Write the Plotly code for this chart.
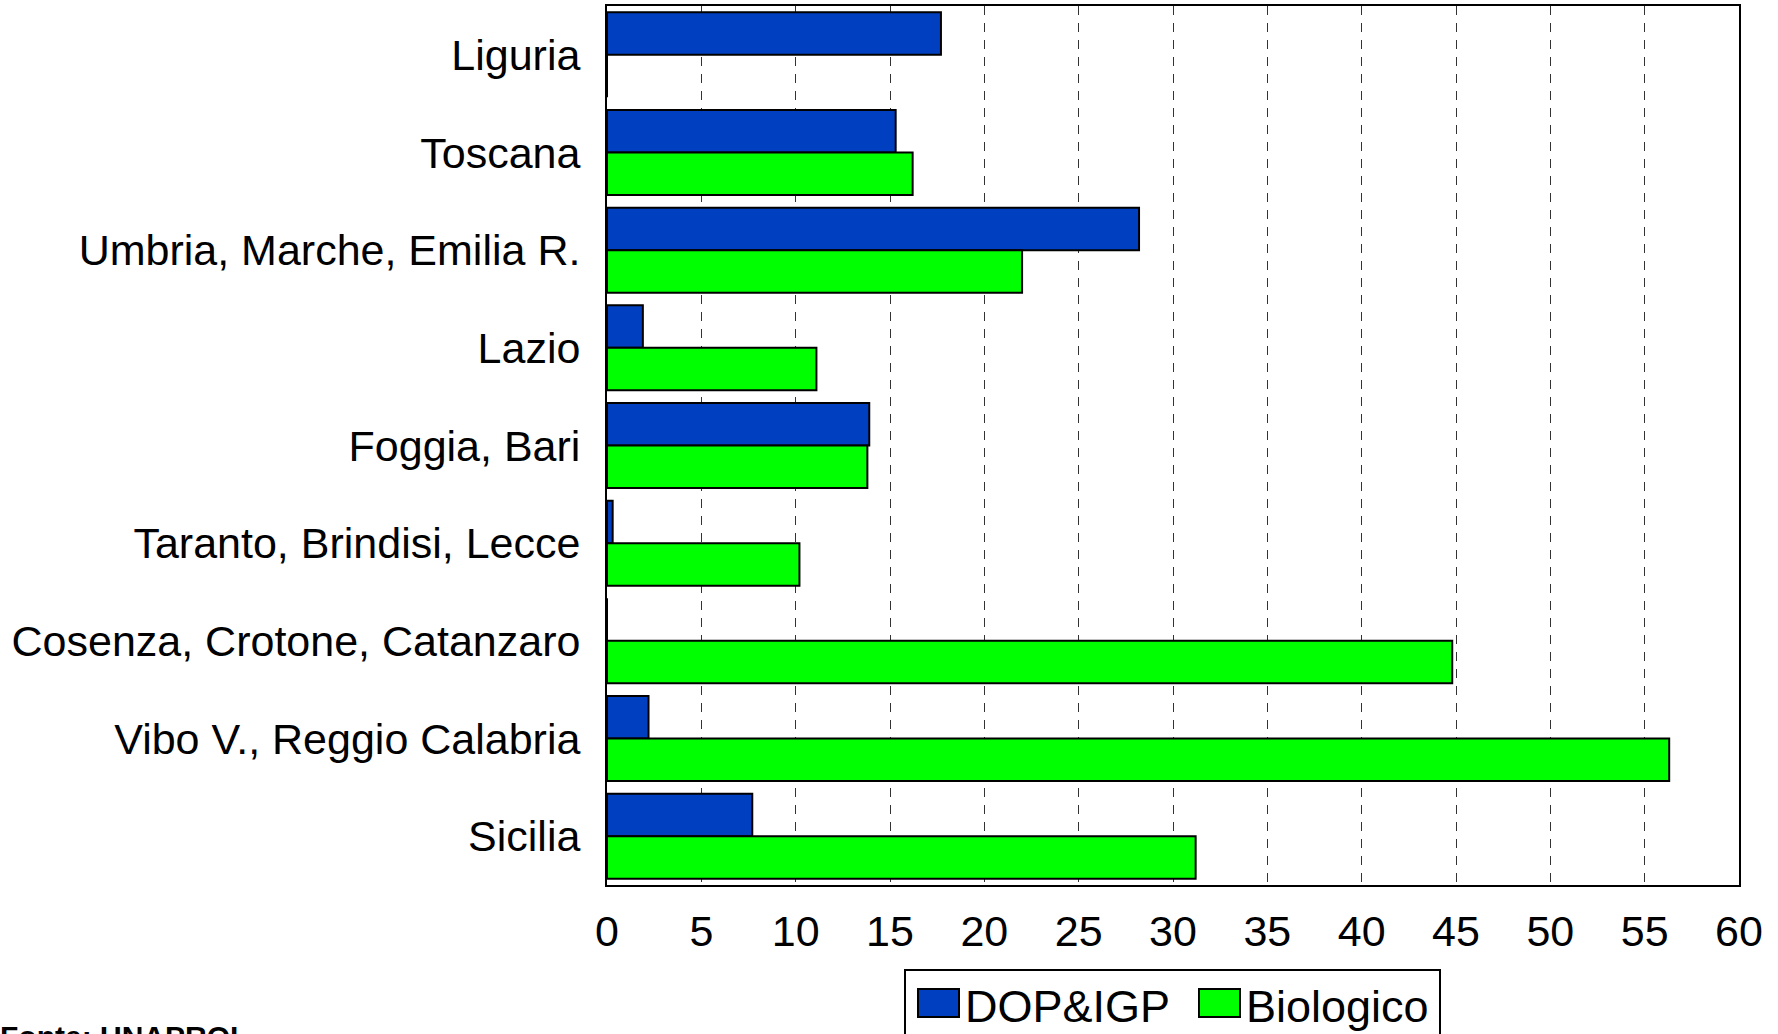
import plotly.graph_objects as go

regions = ["Liguria", "Toscana", "Umbria, Marche, Emilia R.", "Lazio", "Foggia, Bari",
           "Taranto, Brindisi, Lecce", "Cosenza, Crotone, Catanzaro",
           "Vibo V., Reggio Calabria", "Sicilia"]
dop_igp = [17.7, 15.3, 28.2, 1.9, 13.9, 0.3, 0.0, 2.2, 7.7]
biologico = [0.0, 16.2, 22.0, 11.1, 13.8, 10.2, 44.8, 56.3, 31.2]
x_ticks = [0, 5, 10, 15, 20, 25, 30, 35, 40, 45, 50, 55, 60]

BLUE = "#0040C0"
GREEN = "#00FF00"
FONT = "Liberation Sans, Arial, sans-serif"

W, H = 1778, 1034
L, R, T, B = 607, 39, 6, 149
pw, ph = W - L - R, H - T - B

def px(xp):
    return (xp - L) / pw

def py(yp):
    return (H - B - yp) / ph

fig = go.Figure()
fig.add_trace(go.Bar(y=regions, x=dop_igp, orientation="h", name="DOP&IGP",
                     marker=dict(color=BLUE, line=dict(color="black", width=2))))
fig.add_trace(go.Bar(y=regions, x=biologico, orientation="h", name="Biologico",
                     marker=dict(color=GREEN, line=dict(color="black", width=2))))

fig.update_layout(
    width=W, height=H,
    margin=dict(l=L, r=R, t=T, b=B, autoexpand=False),
    barmode="group", bargap=0.13, bargroupgap=0,
    plot_bgcolor="white", paper_bgcolor="white",
    showlegend=False,
    font=dict(family=FONT, color="black", size=43),
)
fig.update_xaxes(range=[0, 60], tickvals=x_ticks, showgrid=True, gridcolor="#333333",
                 gridwidth=1, griddash="9px,8px", showline=True, linecolor="black",
                 linewidth=2, mirror=True, ticks="", zeroline=False,
                 tickfont=dict(size=43, family=FONT), ticklabelstandoff=7)
fig.update_yaxes(autorange="reversed", showline=True, linecolor="black", linewidth=2,
                 mirror=True, ticks="", showgrid=False,
                 tickfont=dict(size=43, family=FONT), ticklabelstandoff=16)

# custom legend
x0, x1, y0 = 905, 1440, 970
fig.add_shape(type="rect", xref="paper", yref="paper", x0=px(x0), x1=px(x1),
              y0=py(1040), y1=py(y0), line=dict(color="black", width=2),
              fillcolor="white", layer="above")
items = [("DOP&IGP", BLUE, 918, 959, 963), ("Biologico", GREEN, 1199, 1240, 1244)]
for name, col, sx0, sx1, tx in items:
    fig.add_shape(type="rect", xref="paper", yref="paper", x0=px(sx0), x1=px(sx1),
                  y0=py(1017), y1=py(989), line=dict(color="black", width=2),
                  fillcolor=col, layer="above")
    fig.add_annotation(text=name, xref="paper", yref="paper", x=px(tx), y=py(1006),
                       xanchor="left", yanchor="middle", showarrow=False,
                       font=dict(size=45, family=FONT, color="black"))

fig.add_annotation(text="<b>Fonte: UNAPROL</b>", xref="paper", yref="paper",
                   x=px(-2), y=py(1018), xanchor="left", yanchor="top", showarrow=False,
                   font=dict(size=30, family=FONT, color="black"))

fig.write_html("out.html", config={"displayModeBar": False, "staticPlot": True},
               post_script="document.body.style.margin='0';document.body.style.overflow='hidden';")
